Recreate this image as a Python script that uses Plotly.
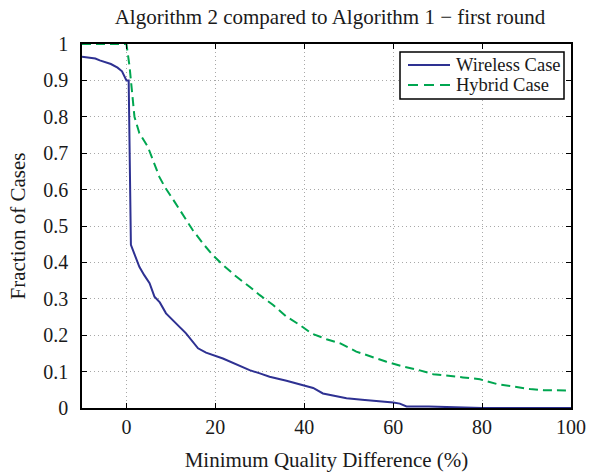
import plotly.graph_objects as go

wireless_x = [-10, -7, -6, -3.5, -2, -1, 0, 0.5, 1.0, 2.9, 4.0, 5.2, 6.3, 7.5, 8.9, 11.2, 13.4, 16.1, 17.9, 21.7, 25.4, 27.7, 30, 32.2, 36, 39.7, 42, 44.2, 46.5, 49.5, 53, 56.2, 60, 61.5, 63, 68, 72, 76.5, 80, 100]
wireless_y = [0.965, 0.96, 0.955, 0.945, 0.935, 0.925, 0.9, 0.9, 0.448, 0.388, 0.365, 0.343, 0.306, 0.29, 0.26, 0.233, 0.205, 0.164, 0.152, 0.136, 0.115, 0.104, 0.095, 0.086, 0.075, 0.063, 0.055, 0.04, 0.035, 0.027, 0.023, 0.02, 0.015, 0.012, 0.004, 0.004, 0.003, 0.0, 0.0, 0.0]

hybrid_x = [-10, 0, 0.7, 1.8, 2.9, 4.8, 7.4, 8.6, 10.8, 12.7, 14.9, 17.2, 19.4, 21.7, 24.7, 27.7, 30, 33, 36, 39, 41.6, 45, 48, 51.7, 55.5, 58.5, 61.9, 65.2, 69, 72.7, 75.7, 79.5, 83.3, 87, 90.8, 93.8, 98.3, 100]
hybrid_y = [1.0, 1.0, 0.938, 0.80, 0.755, 0.718, 0.635, 0.608, 0.567, 0.53, 0.489, 0.452, 0.42, 0.393, 0.361, 0.333, 0.31, 0.283, 0.251, 0.228, 0.205, 0.189, 0.178, 0.155, 0.139, 0.127, 0.115, 0.106, 0.093, 0.089, 0.084, 0.079, 0.066, 0.059, 0.052, 0.049, 0.048, 0.048]

series_names = ["Wireless Case", "Hybrid Case"]

x_ticks = [0, 20, 40, 60, 80, 100]
y_ticks = [0, 0.1, 0.2, 0.3, 0.4, 0.5, 0.6, 0.7, 0.8, 0.9, 1]
y_tick_text = ["0", "0.1", "0.2", "0.3", "0.4", "0.5", "0.6", "0.7", "0.8", "0.9", "1"]

FONT = "Liberation Serif, Times New Roman, serif"
TXT = "#1a1a1a"
BLUE = "#2e3192"
GREEN = "#00a650"
DASH = "9px,5px"

# plot-area geometry in pixels
L, R, T, B = 82, 20, 44, 66
W, H = 591, 474
PW, PH = W - L - R, H - T - B


def px(xp):
    return (xp - L) / PW


def py(yp):
    return (H - B - yp) / PH


fig = go.Figure()
fig.add_trace(go.Scatter(x=wireless_x, y=wireless_y, mode="lines", name=series_names[0],
                         line=dict(color=BLUE, width=2), showlegend=False))
fig.add_trace(go.Scatter(x=hybrid_x, y=hybrid_y, mode="lines", name=series_names[1],
                         line=dict(color=GREEN, width=2, dash=DASH), showlegend=False))

axis_common = dict(showline=True, linecolor="black", linewidth=1.5, mirror="ticks",
                   ticks="inside", ticklen=5, tickcolor="black", tickwidth=1,
                   showgrid=True, gridcolor="#a8a8a8", griddash="1px,3px", gridwidth=1,
                   zeroline=False, automargin=False,
                   tickfont=dict(family=FONT, size=20, color=TXT))

# legend box (framed block in the top-right corner)
shapes = [
    dict(type="rect", xref="paper", yref="paper", x0=px(400), x1=px(564), y0=py(99), y1=py(52),
         line=dict(color="black", width=1.5), fillcolor="white", layer="above"),
    dict(type="line", xref="paper", yref="paper", x0=px(408), x1=px(450), y0=py(65), y1=py(65),
         line=dict(color=BLUE, width=2), layer="above"),
    dict(type="line", xref="paper", yref="paper", x0=px(408), x1=px(450), y0=py(85), y1=py(85),
         line=dict(color=GREEN, width=2, dash="10px,6px"), layer="above"),
]
annotations = [
    dict(text=series_names[0], xref="paper", yref="paper", x=px(454), y=py(65),
         xanchor="left", yanchor="middle", showarrow=False,
         font=dict(family=FONT, size=18.5, color=TXT)),
    dict(text=series_names[1], xref="paper", yref="paper", x=px(454), y=py(85),
         xanchor="left", yanchor="middle", showarrow=False,
         font=dict(family=FONT, size=18.5, color=TXT)),
]

fig.update_layout(
    width=W, height=H,
    margin=dict(l=L, r=R, t=T, b=B, autoexpand=False),
    paper_bgcolor="white", plot_bgcolor="white",
    font=dict(family=FONT, size=20, color=TXT),
    title=dict(text="Algorithm 2 compared to Algorithm 1 − first round",
               x=330 / W, xanchor="center", y=1 - 17 / H, yanchor="middle",
               font=dict(family=FONT, size=21, color=TXT)),
    xaxis=dict(range=[-10, 100], tickvals=x_ticks, ticklabelstandoff=0,
               title=dict(text="Minimum Quality Difference (%)", standoff=16,
                          font=dict(family=FONT, size=21, color=TXT)),
               **axis_common),
    yaxis=dict(range=[0, 1], tickvals=y_ticks, ticktext=y_tick_text, ticklabelstandoff=8,
               title=dict(text="Fraction of Cases", standoff=12,
                          font=dict(family=FONT, size=21, color=TXT)),
               **axis_common),
    shapes=shapes,
    annotations=annotations,
    showlegend=False,
)

fig.write_html("out.html", config={"displayModeBar": False},
               post_script="document.body.style.margin='0';")
